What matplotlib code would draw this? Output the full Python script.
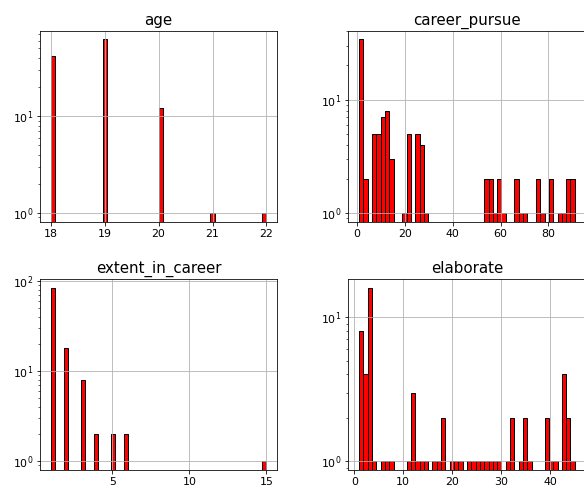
import numpy as np
import matplotlib
matplotlib.use("Agg")
import matplotlib.pyplot as plt
from matplotlib.ticker import MultipleLocator

# age: distinct values and how many rows have each
age_values = [18, 19, 20, 21, 22]
age_counts = [42, 62, 12, 1, 1]

# extent_in_career: distinct values and counts
extent_values = [1, 2, 3, 4, 5, 6, 15]
extent_counts = [84, 18, 8, 2, 2, 2, 1]

# career_pursue: 50 bins between 1 and 91
career_range = (1, 91)
career_bin_counts = [34, 2, 0, 5, 5, 7, 8, 3, 0, 0,
                     1, 5, 0, 5, 4, 1, 0, 0, 0, 0,
                     0, 0, 0, 0, 0, 0, 0, 0, 0, 2,
                     2, 1, 2, 1, 0, 0, 2, 1, 1, 0,
                     0, 2, 1, 0, 2, 0, 1, 1, 2, 2]

# elaborate: 50 bins between 1 and 45
elaborate_range = (1, 45)
elaborate_bin_counts = [8, 4, 16, 1, 0, 1, 1, 1, 0, 0,
                        0, 1, 3, 1, 1, 1, 0, 1, 1, 2,
                        0, 1, 1, 1, 0, 1, 1, 1, 1, 1,
                        1, 1, 1, 0, 1, 2, 0, 1, 2, 1,
                        0, 0, 0, 2, 1, 1, 0, 4, 2, 1]

N_BINS = 50
HIST_STYLE = dict(log=True, color="red", edgecolor="black", linewidth=1.0)


def raw_hist(ax, values, counts, title):
    samples = np.repeat(values, counts)
    ax.hist(samples, bins=N_BINS, **HIST_STYLE)
    ax.set_title(title, fontsize=15)


def binned_hist(ax, rng, counts, title):
    edges = np.linspace(rng[0], rng[1], N_BINS + 1)
    centers = (edges[:-1] + edges[1:]) / 2
    ax.hist(centers, bins=edges, weights=counts, **HIST_STYLE)
    ax.set_title(title, fontsize=15)


fig = plt.figure(figsize=(584 / 72, 494 / 72), dpi=72)
axes = fig.subplots(2, 2)
fig.subplots_adjust(left=0.0685, right=1.0027, bottom=0.0486, top=0.9379,
                    wspace=0.3, hspace=0.3)

raw_hist(axes[0, 0], age_values, age_counts, "age")
binned_hist(axes[0, 1], career_range, career_bin_counts, "career_pursue")
raw_hist(axes[1, 0], extent_values, extent_counts, "extent_in_career")
binned_hist(axes[1, 1], elaborate_range, elaborate_bin_counts, "elaborate")

# the original only labels every 5 here
axes[1, 0].xaxis.set_major_locator(MultipleLocator(5))

for ax in axes.flat:
    ax.grid(True)
    ax.tick_params(labelsize=11)

fig.savefig("out.png", dpi=72)
